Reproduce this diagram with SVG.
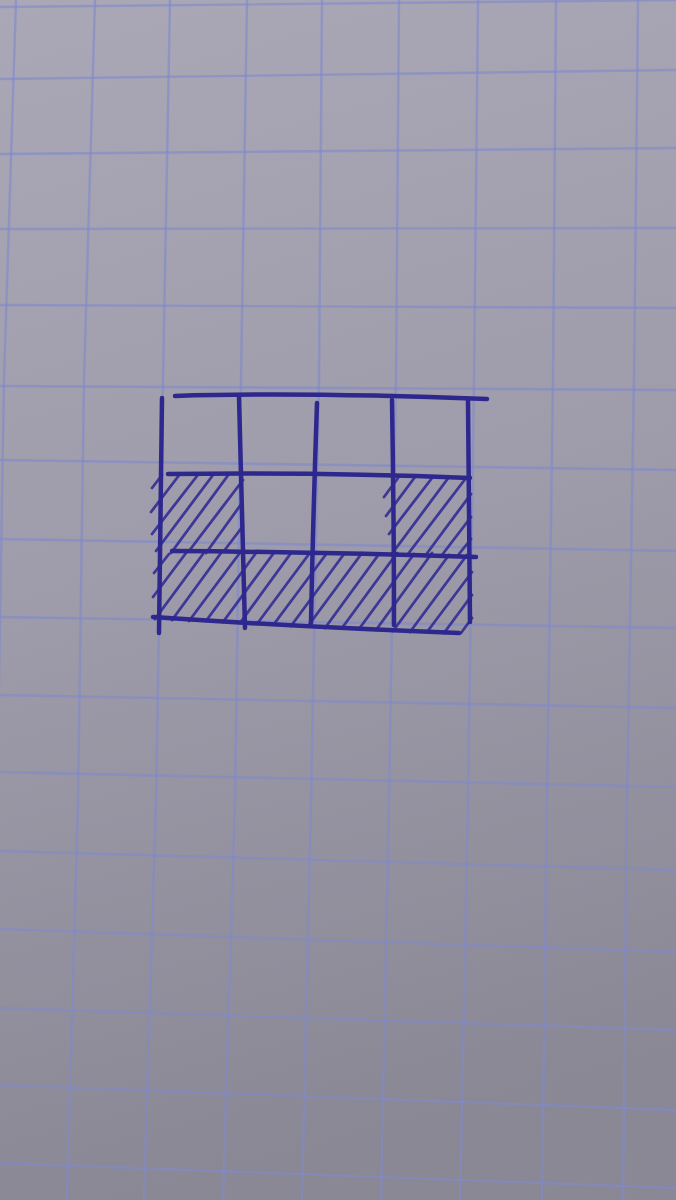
<svg xmlns="http://www.w3.org/2000/svg" width="676" height="1200" viewBox="0 0 676 1200">
  <defs>
    <linearGradient id="paperGrad" x1="0" y1="0" x2="0.15" y2="1">
      <stop offset="0" stop-color="#aaa8b7"/>
      <stop offset="0.5" stop-color="#9e9baa"/>
      <stop offset="1" stop-color="#8b8896"/>
    </linearGradient>
    <style>
      .grid { fill: none; stroke: #7f89cc; stroke-opacity: 0.62; stroke-width: 2.4; stroke-linecap: round; }
      .ink { fill: none; stroke: #2d278e; stroke-width: 4.5; stroke-linecap: round; stroke-linejoin: round; }
      .hatch { fill: none; stroke: #332c95; stroke-width: 2.8; stroke-linecap: round; stroke-opacity: 0.9; }
    </style>
  </defs>

  <g id="paper">
    <rect x="0" y="0" width="676" height="1200" fill="url(#paperGrad)"/>
  </g>

  <g id="grid" class="grid">
    <polyline points="16,0 4,380 -3,800 -10,1200"/>
    <polyline points="95,0 84,380 78,800 67,1200"/>
    <polyline points="170,0 163,380 156,800 144,1200"/>
    <polyline points="247,0 241,380 235,800 223,1200"/>
    <polyline points="322,0 319,380 311,800 302,1200"/>
    <polyline points="399,0 396,380 389,800 381,1200"/>
    <polyline points="478,0 474,380 468,800 460,1200"/>
    <polyline points="556,0 553,380 547,800 542,1200"/>
    <polyline points="638,0 634,380 627,800 623,1200"/>

    <line x1="0" y1="7" x2="676" y2="0"/>
    <line x1="0" y1="79" x2="676" y2="70"/>
    <line x1="0" y1="154" x2="676" y2="148"/>
    <line x1="0" y1="229" x2="676" y2="228"/>
    <line x1="0" y1="305" x2="676" y2="308"/>
    <line x1="0" y1="386" x2="676" y2="390"/>
    <line x1="0" y1="460" x2="676" y2="470"/>
    <line x1="0" y1="539" x2="676" y2="551"/>
    <line x1="0" y1="617" x2="676" y2="628"/>
    <line x1="0" y1="695" x2="676" y2="708"/>
    <line x1="0" y1="772" x2="676" y2="787"/>
    <line x1="0" y1="851" x2="676" y2="870"/>
    <line x1="0" y1="929" x2="676" y2="952"/>
    <line x1="0" y1="1008" x2="676" y2="1030"/>
    <line x1="0" y1="1085" x2="676" y2="1110"/>
    <line x1="0" y1="1163" x2="676" y2="1188"/>
  </g>

  <g id="drawing">
    <g id="hatching" class="hatch">
      <!-- row 2, column 1 -->
      <path d="M152,488 L162,475 M151,512 L180,474 M152,534 L197,476 M156,551 L213,475 M171,553 L229,474 M189,551 L243,480 M206,553 L242,503 M224,551 L243,526"/>
      <!-- row 2, column 4 -->
      <path d="M384,497 L398,478 M386,516 L415,477 M389,534 L432,478 M391,555 L449,477 M408,554 L466,478 M425,556 L471,494 M442,555 L471,517 M459,554 L471,539"/>
      <!-- row 3 -->
      <path d="M154,573 L169,554 M153,597 L186,553 M155,619 L203,554 M172,620 L221,553 M189,621 L239,554 M206,621 L256,553 M223,622 L273,554 M240,623 L291,553 M257,624 L309,554 M274,624 L327,553 M291,626 L344,554 M308,626 L362,553 M325,628 L379,554 M342,628 L397,553 M359,629 L414,554 M376,630 L432,553 M393,631 L449,555 M410,632 L467,555 M427,632 L472,572 M444,633 L472,595 M461,633 L472,618"/>
    </g>
    <g id="frame" class="ink">
      <path d="M175,396 Q300,392 487,399"/>
      <path d="M168,474 Q320,472 470,478"/>
      <path d="M172,551 Q320,552 476,557"/>
      <path d="M153,617 Q300,627 459,633"/>
      <path d="M162,398 Q160,520 159,633"/>
      <path d="M239,397 Q242,510 245,628"/>
      <path d="M317,403 Q313,520 311,623"/>
      <path d="M392,400 Q394,520 394,625"/>
      <path d="M468,400 Q469,520 470,622"/>
    </g>
  </g>
</svg>
